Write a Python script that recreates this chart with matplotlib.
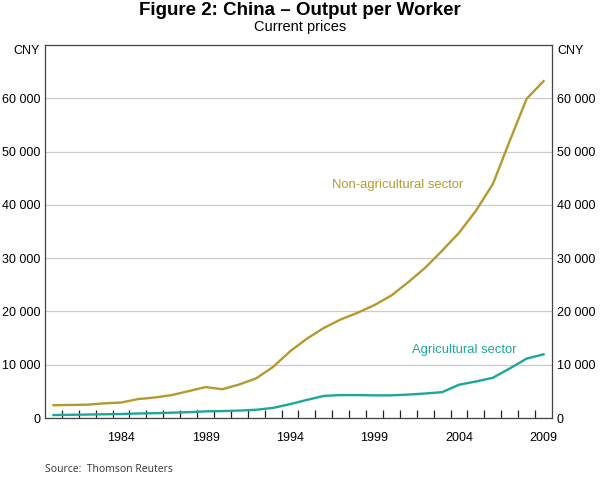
import numpy as np
import matplotlib
matplotlib.use("Agg")
import matplotlib.pyplot as plt
from matplotlib.ticker import FixedLocator, FuncFormatter

plt.rcParams['font.family'] = ['Liberation Sans', 'DejaVu Sans']

# data (CNY, current prices)
years = list(range(1980, 2010))
non_agri = [2400, 2450, 2500, 2750, 2900, 3550, 3850, 4300, 5050, 5800,
            5400, 6300, 7450, 9600, 12500, 14900, 16900, 18500, 19750, 21200,
            23000, 25500, 28200, 31400, 34750, 38900, 43900, 52000, 59900, 63200]
agri = [550, 600, 650, 700, 750, 850, 900, 1000, 1100, 1250,
        1300, 1400, 1550, 1900, 2600, 3400, 4150, 4300, 4300, 4250,
        4250, 4400, 4600, 4850, 6250, 6850, 7550, 9300, 11150, 11950]
year_labels = [1984, 1989, 1994, 1999, 2004, 2009]
y_ticks = [0, 10000, 20000, 30000, 40000, 50000, 60000]

gold = "#B49A2E"
teal = "#1BA89A"

def fmt(v, pos):
  return "{:,}".format(int(v)).replace(",", " ")

fig = plt.figure(figsize=(6.0, 4.78), dpi=100)
ax = fig.add_axes([0.075, 0.1255, 0.845, 0.7805])

ax.plot(years, non_agri, color=gold, lw=1.7)
ax.plot(years, agri, color=teal, lw=1.7)

ax.set_xlim(years[0] - 0.5, years[-1] + 0.5)
ax.set_ylim(0, 70000)

# year ticks at the boundaries, labels centred on the years
ax.xaxis.set_minor_locator(FixedLocator([y + 0.5 for y in years[:-1]]))
ax.set_xticks(year_labels)
ax.tick_params(axis="x", which="minor", direction="in", length=6, width=0.9, color="#222222")
ax.tick_params(axis="x", which="major", length=0, labelsize=9, pad=10)

ax.set_yticks(y_ticks)
ax.yaxis.set_major_formatter(FuncFormatter(fmt))
ax.tick_params(axis="y", which="major", length=0, labelsize=9, pad=3.5,
               left=True, right=True, labelleft=True, labelright=True)
ax.grid(axis="y", color="#cccccc", lw=0.9)
ax.set_axisbelow(True)

for s in ax.spines.values():
  s.set_color("#444444")
  s.set_linewidth(0.9)

ax.text(-0.01, 0.985, "CNY", transform=ax.transAxes, ha="right", va="center", fontsize=9)
ax.text(1.01, 0.985, "CNY", transform=ax.transAxes, ha="left", va="center", fontsize=9)

ax.text(1996.5, 43700, "Non-agricultural sector", color=gold, fontsize=9.4, ha="left", va="center")
ax.text(2001.2, 12750, "Agricultural sector", color=teal, fontsize=9.4, ha="left", va="center")

fig.text(0.5, 0.978, "Figure 2: China \u2013 Output per Worker", ha="center", va="center",
         fontsize=13.5, fontweight="bold")
fig.text(0.5, 0.943, "Current prices", ha="center", va="center", fontsize=10.5)
fig.text(0.075, 0.018, "Source:  Thomson Reuters", ha="left", va="center", fontsize=7.5,
         color="#333333", family=["Open Sans", "DejaVu Sans"])

fig.savefig("out.png", dpi=100)
